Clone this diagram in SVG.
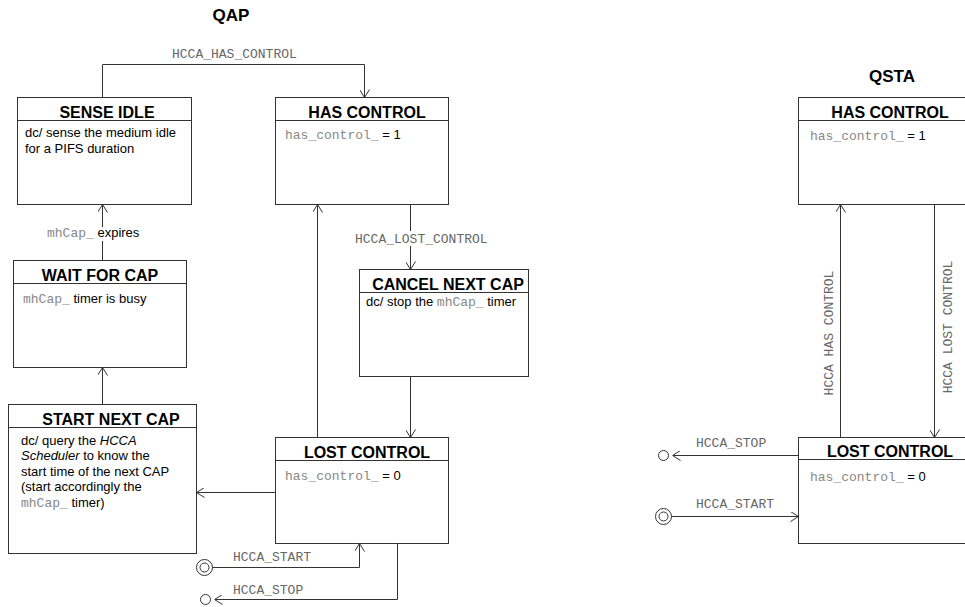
<svg xmlns="http://www.w3.org/2000/svg" width="965" height="607" viewBox="0 0 965 607">
<style>
.box{fill:#fff;stroke:#333;stroke-width:1}
.hdr{stroke:#333;stroke-width:1}
.title{font-family:"Liberation Sans",Arial,sans-serif;font-weight:bold;font-size:16px;text-anchor:middle;fill:#000}
.head{font-family:"Liberation Sans",Arial,sans-serif;font-weight:bold;font-size:17px;text-anchor:middle;fill:#000}
.body{font-family:"Liberation Sans",Arial,sans-serif;font-size:13px;fill:#000}
.mono{font-family:"Liberation Mono","Courier New",monospace;font-size:13px;fill:#888}
.lbl{font-family:"Liberation Mono","Courier New",monospace;font-size:13px;fill:#666}
.edge{fill:none;stroke:#333;stroke-width:1}
.arr{marker-end:url(#arrow)}
.st{fill:#fff;stroke:#333;stroke-width:1}
</style>
<defs>
<marker id="arrow" markerUnits="userSpaceOnUse" viewBox="0 0 10 10" refX="10" refY="5" markerWidth="10" markerHeight="10" orient="auto">
<path d="M2,0 L10,5 L2,10" fill="none" stroke="#333" stroke-width="1"/>
</marker>
</defs>
<rect width="965" height="607" fill="#fff"/>
<text class="head" x="231" y="21">QAP</text>
<text class="head" x="892" y="82">QSTA</text>

<g id="qap-sense-idle">
<rect class="box" x="17.5" y="97.5" width="174" height="107"/>
<line class="hdr" x1="17.5" y1="120.5" x2="191.5" y2="120.5"/>
<text class="title" x="107" y="118">SENSE IDLE</text>
<text class="body" x="25" y="137">dc/ sense the medium idle</text>
<text class="body" x="25" y="153">for a PIFS duration</text>
</g>

<g id="qap-has-control">
<rect class="box" x="275.5" y="97.5" width="173" height="107"/>
<line class="hdr" x1="275.5" y1="120.5" x2="448.5" y2="120.5"/>
<text class="title" x="367" y="118">HAS CONTROL</text>
<text class="body" x="285" y="139"><tspan class="mono">has_control_</tspan> = 1</text>
</g>

<g id="qap-wait-for-cap">
<rect class="box" x="13.5" y="260.5" width="173" height="107"/>
<line class="hdr" x1="13.5" y1="283.5" x2="186.5" y2="283.5"/>
<text class="title" x="100" y="281">WAIT FOR CAP</text>
<text class="body" x="23" y="303"><tspan class="mono">mhCap_</tspan> timer is busy</text>
</g>

<g id="qap-cancel-next-cap">
<rect class="box" x="359.5" y="269.5" width="169" height="107"/>
<line class="hdr" x1="359.5" y1="292.5" x2="528.5" y2="292.5"/>
<text class="title" x="448" y="290">CANCEL NEXT CAP</text>
<text class="body" x="366" y="306">dc/ stop the <tspan class="mono">mhCap_</tspan> timer</text>
</g>

<g id="qap-start-next-cap">
<rect class="box" x="8.5" y="404.5" width="188" height="149"/>
<line class="hdr" x1="8.5" y1="427.5" x2="196.5" y2="427.5"/>
<text class="title" x="111" y="425">START NEXT CAP</text>
<text class="body" x="21" y="445">dc/ query the <tspan font-style="italic">HCCA</tspan></text>
<text class="body" x="21" y="460"><tspan font-style="italic">Scheduler</tspan> to know the</text>
<text class="body" x="21" y="476">start time of the next CAP</text>
<text class="body" x="21" y="491">(start accordingly the</text>
<text class="body" x="21" y="507"><tspan class="mono">mhCap_</tspan> timer)</text>
</g>

<g id="qap-lost-control">
<rect class="box" x="275.5" y="437.5" width="173" height="106"/>
<line class="hdr" x1="275.5" y1="460.5" x2="448.5" y2="460.5"/>
<text class="title" x="367" y="458">LOST CONTROL</text>
<text class="body" x="285" y="480"><tspan class="mono">has_control_</tspan> = 0</text>
</g>

<g id="qsta-has-control">
<rect class="box" x="798.5" y="97.5" width="174" height="107"/>
<line class="hdr" x1="798.5" y1="120.5" x2="972.5" y2="120.5"/>
<text class="title" x="890" y="118">HAS CONTROL</text>
<text class="body" x="810" y="140"><tspan class="mono">has_control_</tspan> = 1</text>
</g>

<g id="qsta-lost-control">
<rect class="box" x="798.5" y="437.5" width="174" height="106"/>
<line class="hdr" x1="798.5" y1="459.5" x2="972.5" y2="459.5"/>
<text class="title" x="890" y="457">LOST CONTROL</text>
<text class="body" x="810" y="481"><tspan class="mono">has_control_</tspan> = 0</text>
</g>

<g id="qap-initial">
<circle class="st" cx="204.5" cy="567.5" r="8"/>
<circle class="st" cx="204.5" cy="567.5" r="4.5"/>
</g>
<g id="qap-final">
<circle class="st" cx="205.5" cy="599.5" r="5"/>
</g>
<g id="qsta-initial">
<circle class="st" cx="663.5" cy="516.5" r="8"/>
<circle class="st" cx="663.5" cy="516.5" r="4.5"/>
</g>
<g id="qsta-final">
<circle class="st" cx="663.5" cy="455.5" r="5"/>
</g>

<g id="connectors">
<path class="edge arr" d="M102.5,97.5 V64.5 H364.5 V97.5"/>
<text class="lbl" x="172" y="58">HCCA_HAS_CONTROL</text>

<path class="edge arr" d="M410.5,204.5 V269.5"/>
<rect x="354" y="231" width="136" height="15" fill="#fff"/>
<text class="lbl" x="355" y="243">HCCA_LOST_CONTROL</text>

<path class="edge arr" d="M410.5,376.5 V437.5"/>
<path class="edge arr" d="M317.5,437.5 V204.5"/>
<path class="edge arr" d="M275.5,492.5 H196.5"/>
<path class="edge arr" d="M102.5,404.5 V367.5"/>

<path class="edge arr" d="M102.5,260.5 V204.5"/>
<rect x="45" y="227" width="98" height="14" fill="#fff"/>
<text class="body" x="47" y="237"><tspan class="mono">mhCap_</tspan> expires</text>

<path class="edge arr" d="M212.5,567.5 H359.5 V543.5"/>
<text class="lbl" x="233" y="561">HCCA_START</text>
<path class="edge arr" d="M397.5,543.5 V599.5 H214.5"/>
<text class="lbl" x="233" y="594">HCCA_STOP</text>

<path class="edge arr" d="M840.5,437.5 V204.5"/>
<text class="lbl" text-anchor="middle" transform="translate(833,333) rotate(-90)">HCCA HAS CONTROL</text>
<path class="edge arr" d="M934.5,204.5 V437.5"/>
<text class="lbl" text-anchor="middle" transform="translate(952,327) rotate(-90)">HCCA LOST CONTROL</text>

<path class="edge arr" d="M798.5,455.5 H672.5"/>
<text class="lbl" x="696" y="447">HCCA_STOP</text>
<path class="edge arr" d="M671.5,516.5 H798.5"/>
<text class="lbl" x="696" y="508">HCCA_START</text>
</g>
</svg>
